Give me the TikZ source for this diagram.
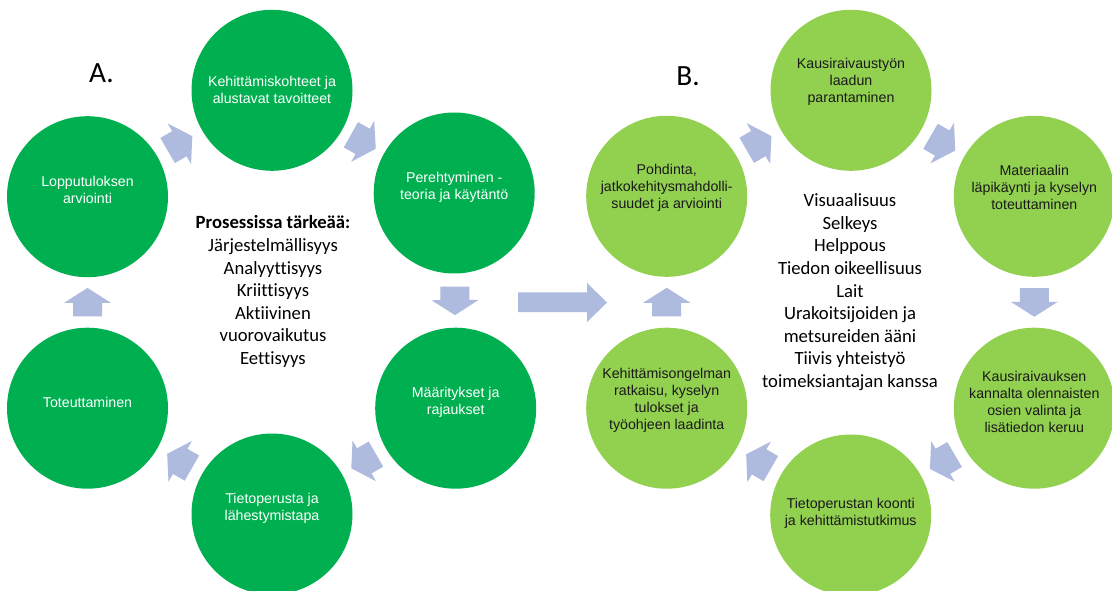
\documentclass[tikz,border=0pt]{standalone}
\usepackage{fontspec}
\setmainfont{Carlito}[Ligatures={NoCommon}]
\newfontfamily\arialf{Liberation Sans}
\usetikzlibrary{calc}
\definecolor{gA}{HTML}{00B050}
\definecolor{gB}{HTML}{92D050}
\definecolor{arr}{RGB}{174,186,222}
\definecolor{txtB}{HTML}{1A1A1A}
\tikzset{
  circA/.style={circle, fill=gA, draw=none, minimum size=120.75pt, inner sep=0pt},
  circB/.style={circA, fill=gB},
  ctxt/.style={font=\arialf\fontsize{10.65}{12.75}\selectfont, align=center, inner sep=0pt},
  ctxtA/.style={ctxt, text=white},
  ctxtB/.style={ctxt, text=txtB},
  midtxt/.style={font=\fontsize{14}{16.95}\selectfont, align=center, inner sep=0pt},
  paneltxt/.style={font=\fontsize{22}{26}\selectfont, inner sep=0pt},
  arrfill/.style={fill=arr, draw=none},
}
\newcommand\cycarrow[2]{%
  \pgfmathanglebetweenpoints{\pgfpointanchor{#1}{center}}{\pgfpointanchor{#2}{center}}%
  \let\arrang\pgfmathresult
  \fill[arrfill, shift={($(#1.center)!0.5!(#2.center)$)}, rotate=\arrang]
    (-14,-14.5) -- (-0.5,-14.5) -- (-0.5,-23.5) -- (14.5,0) -- (-0.5,23.5)
    -- (-0.5,14.5) -- (-14,14.5) -- cycle;
}
\begin{document}
\begin{tikzpicture}[x=0.75pt,y=-0.75pt]
\useasboundingbox (0,0) rectangle (1112,591);
\fill[white] (0,0) rectangle (1112,591);

% ---------------- Panel A ----------------
\node[circA] (a1) at (272,90.3) {};
\node[circA] (a2) at (454.2,193) {};
\node[circA] (a3) at (455.7,408.2) {};
\node[circA] (a4) at (272,514) {};
\node[circA] (a5) at (87.5,408.2) {};
\node[circA] (a6) at (87.5,196.7) {};

\node[ctxtA] (a1t) at ([yshift=0.2pt]a1.center) {Kehittämiskohteet ja\\alustavat tavoitteet};
\node[ctxtA] (a2t) at ([yshift=4.1pt]a2.center) {Perehtyminen -\\teoria ja käytäntö};
\node[ctxtA] (a3t) at ([yshift=4.2pt]a3.center) {Määritykset ja\\rajaukset};
\node[ctxtA] (a4t) at ([yshift=4.1pt]a4.center) {Tietoperusta ja\\lähestymistapa};
\node[ctxtA] (a5t) at ([yshift=4.6pt]a5.center) {Toteuttaminen};
\node[ctxtA] (a6t) at ([yshift=5pt]a6.center) {Lopputuloksen\\arviointi};

\cycarrow{a1}{a2}
\cycarrow{a2}{a3}
\cycarrow{a3}{a4}
\cycarrow{a4}{a5}
\cycarrow{a5}{a6}
\cycarrow{a6}{a1}

\node[midtxt] (amid) at (273,291.7) {\textbf{Prosessissa tärkeää:}\\Järjestelmällisyys\\Analyyttisyys\\Kriittisyys\\Aktiivinen\\vuorovaikutus\\Eettisyys};
\node[paneltxt] (alab) at (101.5,73.3) {A.};

% ---------------- big arrow between panels ----------------
\fill[arrfill] (518,292.5) -- (587,292.5) -- (587,283) -- (607,302.5) -- (587,322) -- (587,312) -- (518,312) -- cycle;

% ---------------- Panel B ----------------
\node[circB] (b1) at (851,90.3) {};
\node[circB] (b2) at (1034.3,196.3) {};
\node[circB] (b3) at (1034.3,408.2) {};
\node[circB] (b4) at (850.7,515) {};
\node[circB] (b5) at (666.7,408.2) {};
\node[circB] (b6) at (666.7,196.3) {};

\node[ctxtB] (b1t) at ([yshift=6.7pt]b1.center) {Kausiraivaustyön\\laadun\\parantaminen};
\node[ctxtB] (b2t) at ([yshift=6.7pt]b2.center) {Materiaalin\\läpikäynti ja kyselyn\\toteuttaminen};
\node[ctxtB] (b3t) at ([yshift=5pt]b3.center) {Kausiraivauksen\\kannalta olennaisten\\osien valinta ja\\lisätiedon keruu};
\node[ctxtB] (b4t) at ([yshift=1.4pt]b4.center) {Tietoperustan koonti\\ja kehittämistutkimus};
\node[ctxtB] (b5t) at ([yshift=5.8pt]b5.center) {Kehittämisongelman\\ratkaisu, kyselyn\\tulokset ja\\työohjeen laadinta};
\node[ctxtB] (b6t) at ([yshift=6.2pt]b6.center) {Pohdinta,\\jatkokehitysmahdolli-\\suudet ja arviointi};

\cycarrow{b1}{b2}
\cycarrow{b2}{b3}
\cycarrow{b3}{b4}
\cycarrow{b4}{b5}
\cycarrow{b5}{b6}
\cycarrow{b6}{b1}

\node[midtxt] (bmid) at (850,292.2) {Visuaalisuus\\Selkeys\\Helppous\\Tiedon oikeellisuus\\Lait\\Urakoitsijoiden ja\\metsureiden ääni\\Tiivis yhteistyö\\toimeksiantajan kanssa};
\node[paneltxt] (blab) at (688,76.3) {B.};
\end{tikzpicture}
\end{document}
